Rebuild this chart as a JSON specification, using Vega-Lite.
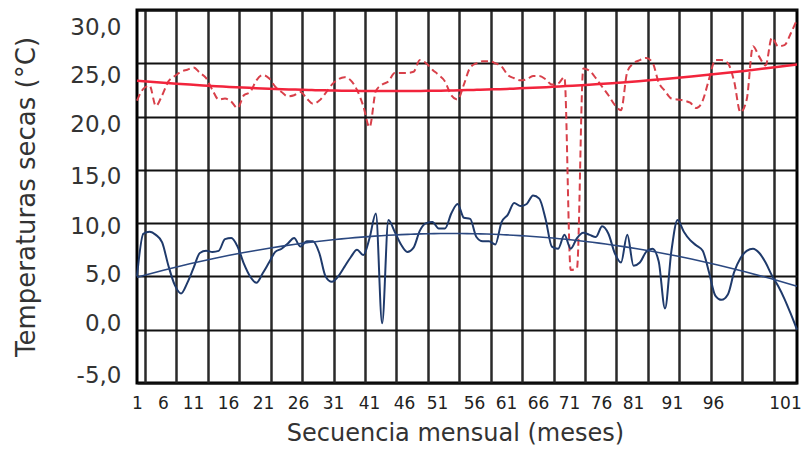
{
  "$schema": "https://vega.github.io/schema/vega-lite/v6.json",
  "width": 660,
  "height": 373,
  "autosize": {"type": "none"},
  "padding": {"left": 137, "top": 10, "right": 5, "bottom": 73},
  "background": "#ffffff",
  "config": {
    "view": {"stroke": "#000000", "strokeWidth": 3},
    "font": "DejaVu Sans"
  },
  "datasets": {
    "temps": [
      {"mes":1,"inferior":5.0,"superior":21.5},{"mes":2,"inferior":9.0,"superior":22.6},{"mes":3,"inferior":9.2,"superior":22.9},{"mes":4,"inferior":8.9,"superior":21.0},{"mes":5,"inferior":8.2,"superior":22.0},
      {"mes":6,"inferior":6.0,"superior":23.3},{"mes":7,"inferior":4.2,"superior":23.8},{"mes":8,"inferior":3.4,"superior":24.2},{"mes":9,"inferior":4.4,"superior":24.4},{"mes":10,"inferior":5.8,"superior":24.6},
      {"mes":11,"inferior":7.2,"superior":24.1},{"mes":12,"inferior":7.4,"superior":23.6},{"mes":13,"inferior":7.3,"superior":22.5},{"mes":14,"inferior":7.4,"superior":21.6},{"mes":15,"inferior":8.5,"superior":21.7},
      {"mes":16,"inferior":8.6,"superior":21.4},{"mes":17,"inferior":7.8,"superior":20.8},{"mes":18,"inferior":6.2,"superior":22.0},{"mes":19,"inferior":5.0,"superior":22.3},{"mes":20,"inferior":4.4,"superior":23.4},
      {"mes":21,"inferior":5.3,"superior":23.9},{"mes":22,"inferior":6.3,"superior":23.6},{"mes":23,"inferior":7.3,"superior":22.8},{"mes":24,"inferior":7.6,"superior":22.3},{"mes":25,"inferior":8.1,"superior":21.9},
      {"mes":26,"inferior":8.6,"superior":22.0},{"mes":27,"inferior":7.8,"superior":22.3},{"mes":28,"inferior":8.3,"superior":21.7},{"mes":29,"inferior":8.3,"superior":21.2},{"mes":30,"inferior":7.2,"superior":21.5},
      {"mes":31,"inferior":5.0,"superior":22.2},{"mes":32,"inferior":4.5,"superior":23.0},{"mes":33,"inferior":5.0,"superior":23.5},{"mes":34,"inferior":5.9,"superior":23.7},{"mes":35,"inferior":6.8,"superior":23.4},
      {"mes":36,"inferior":7.5,"superior":22.5},{"mes":37,"inferior":7.0,"superior":21.0},{"mes":38,"inferior":8.6,"superior":19.0},{"mes":39,"inferior":10.9,"superior":22.4},{"mes":40,"inferior":0.6,"superior":23.0},
      {"mes":41,"inferior":10.3,"superior":23.3},{"mes":42,"inferior":9.2,"superior":24.1},{"mes":43,"inferior":8.0,"superior":24.1},{"mes":44,"inferior":7.3,"superior":24.1},{"mes":45,"inferior":7.7,"superior":24.2},
      {"mes":46,"inferior":9.3,"superior":25.3},{"mes":47,"inferior":10.0,"superior":25.0},{"mes":48,"inferior":10.1,"superior":24.4},{"mes":49,"inferior":9.5,"superior":23.9},{"mes":50,"inferior":9.5,"superior":23.3},
      {"mes":51,"inferior":10.9,"superior":22.0},{"mes":52,"inferior":11.8,"superior":21.6},{"mes":53,"inferior":10.5,"superior":23.0},{"mes":54,"inferior":10.4,"superior":24.6},{"mes":55,"inferior":8.7,"superior":25.0},
      {"mes":56,"inferior":8.3,"superior":25.2},{"mes":57,"inferior":8.3,"superior":25.2},{"mes":58,"inferior":8.0,"superior":25.0},{"mes":59,"inferior":10.1,"superior":24.7},{"mes":60,"inferior":10.8,"superior":23.9},
      {"mes":61,"inferior":11.9,"superior":23.6},{"mes":62,"inferior":11.6,"superior":23.4},{"mes":63,"inferior":11.8,"superior":23.5},{"mes":64,"inferior":12.6,"superior":23.8},{"mes":65,"inferior":12.3,"superior":23.8},
      {"mes":66,"inferior":10.4,"superior":23.5},{"mes":67,"inferior":7.8,"superior":23.0},{"mes":68,"inferior":7.6,"superior":23.1},{"mes":69,"inferior":8.9,"superior":23.7},{"mes":70,"inferior":7.6,"superior":5.6},
      {"mes":71,"inferior":8.6,"superior":5.8},{"mes":72,"inferior":9.1,"superior":24.5},{"mes":73,"inferior":8.9,"superior":24.3},{"mes":74,"inferior":8.7,"superior":23.6},{"mes":75,"inferior":9.7,"superior":22.8},
      {"mes":76,"inferior":9.0,"superior":22.0},{"mes":77,"inferior":7.2,"superior":21.1},{"mes":78,"inferior":6.3,"superior":20.6},{"mes":79,"inferior":8.9,"superior":24.2},{"mes":80,"inferior":6.0,"superior":25.0},
      {"mes":81,"inferior":6.3,"superior":25.3},{"mes":82,"inferior":7.3,"superior":25.5},{"mes":83,"inferior":7.6,"superior":25.1},{"mes":84,"inferior":6.4,"superior":23.2},{"mes":85,"inferior":2.0,"superior":22.4},
      {"mes":86,"inferior":7.3,"superior":21.7},{"mes":87,"inferior":10.3,"superior":21.6},{"mes":88,"inferior":9.2,"superior":21.5},{"mes":89,"inferior":8.4,"superior":21.3},{"mes":90,"inferior":7.9,"superior":20.8},
      {"mes":91,"inferior":7.4,"superior":21.5},{"mes":92,"inferior":5.4,"superior":23.5},{"mes":93,"inferior":3.2,"superior":25.3},{"mes":94,"inferior":2.8,"superior":25.3},{"mes":95,"inferior":3.3,"superior":25.0},
      {"mes":96,"inferior":5.4,"superior":23.3},{"mes":97,"inferior":6.7,"superior":20.4},{"mes":98,"inferior":7.4,"superior":21.6},{"mes":99,"inferior":7.6,"superior":26.6},{"mes":100,"inferior":7.2,"superior":25.6},
      {"mes":101,"inferior":6.3,"superior":24.8},{"mes":102,"inferior":5.1,"superior":27.4},{"mes":103,"inferior":4.1,"superior":26.6},{"mes":104,"inferior":2.9,"superior":26.7},{"mes":105,"inferior":1.5,"superior":27.8},
      {"mes":106,"inferior":0.0,"superior":29.1}
    ]
  },
  "data": {"name": "temps"},
  "layer": [
    {
      "encoding": {
        "x": {
          "field": "mes", "type": "quantitative",
          "scale": {"domain": [1, 106], "nice": false, "zero": false},
          "axis": {
            "orient": "top", "grid": true, "labels": false, "ticks": false, "domain": false, "title": null,
            "values": [2.27, 7.27, 12.27, 17.27, 22.27, 27.27, 32.27, 37.27, 42.27, 47.27, 52.27, 57.27, 62.27, 67.27, 72.27, 77.27, 82.27, 87.27, 92.27, 97.27, 102.27],
            "gridColor": "#2a2a2a", "gridWidth": 2.5, "gridOpacity": 1
          }
        },
        "y": {
          "field": "superior", "type": "quantitative",
          "scale": {"domain": [-5, 30], "nice": false, "zero": false},
          "axis": {
            "orient": "right", "grid": true, "labels": false, "ticks": false, "domain": false, "title": null,
            "values": [-5, 0, 5, 10, 15, 20, 25, 30],
            "gridColor": "#111111", "gridWidth": 2.2, "gridOpacity": 1
          }
        }
      },
      "layer": [
        {
          "mark": {"type": "line", "color": "#d8404a", "strokeWidth": 2, "strokeDash": [7, 4], "interpolate": "monotone"}
        },
        {
          "transform": [{"regression": "superior", "on": "mes", "method": "poly", "order": 2, "extent": [1, 106]}],
          "mark": {"type": "line", "color": "#f2243c", "strokeWidth": 2.5}
        }
      ]
    },
    {
      "encoding": {
        "x": {
          "field": "mes", "type": "quantitative",
          "scale": {"domain": [1, 106], "nice": false, "zero": false},
          "axis": {
            "orient": "bottom", "grid": false, "ticks": false, "domain": false,
            "title": "Secuencia mensual (meses)",
            "values": [1.0, 5.14, 9.91, 15.48, 21.04, 26.61, 32.18, 37.91, 43.48, 48.72, 54.61, 59.7, 64.79, 69.72, 74.81, 79.9, 86.1, 92.63, 104.09],
            "labelExpr": "datum.value < 3 ? '1' : datum.value < 7 ? '6' : datum.value < 12 ? '11' : datum.value < 18 ? '16' : datum.value < 24 ? '21' : datum.value < 29 ? '26' : datum.value < 35 ? '31' : datum.value < 41 ? '41' : datum.value < 46 ? '46' : datum.value < 52 ? '51' : datum.value < 58 ? '56' : datum.value < 63 ? '61' : datum.value < 68 ? '66' : datum.value < 72 ? '71' : datum.value < 77 ? '76' : datum.value < 83 ? '81' : datum.value < 89 ? '91' : datum.value < 98 ? '96' : '101'",
            "labelOverlap": false, "labelBound": false, "labelFlush": false,
            "labelFont": "DejaVu Sans", "labelFontSize": 17, "labelColor": "#222222", "labelPadding": 12,
            "titleFont": "DejaVu Sans", "titleFontSize": 24, "titleFontWeight": "normal", "titleColor": "#333333", "titlePadding": 10,
            "titleX": 318
          }
        },
        "y": {
          "field": "inferior", "type": "quantitative",
          "scale": {"domain": [-5, 30], "nice": false, "zero": false},
          "axis": {
            "orient": "left", "grid": false, "ticks": false, "domain": false,
            "title": "Temperaturas secas (°C)",
            "values": [28.4, 23.9, 19.21, 14.33, 9.64, 5.14, 0.63, -4.25],
            "labelExpr": "datum.value > 26 ? '30,0' : datum.value > 21 ? '25,0' : datum.value > 16 ? '20,0' : datum.value > 12 ? '15,0' : datum.value > 7 ? '10,0' : datum.value > 3 ? '5,0' : datum.value > -2 ? '0,0' : '-5,0'",
            "labelOverlap": false, "labelBound": false, "labelFlush": false,
            "labelFont": "DejaVu Sans", "labelFontSize": 23, "labelColor": "#333333", "labelPadding": 16,
            "titleFont": "DejaVu Sans", "titleFontSize": 26, "titleFontWeight": "normal", "titleColor": "#333333", "titlePadding": 30
          }
        }
      },
      "layer": [
        {
          "mark": {"type": "line", "color": "#1f3a6b", "strokeWidth": 2, "interpolate": "monotone"}
        },
        {
          "transform": [{"regression": "inferior", "on": "mes", "method": "poly", "order": 2, "extent": [1, 106]}],
          "mark": {"type": "line", "color": "#2b4880", "strokeWidth": 1.6}
        }
      ]
    }
  ],
  "resolve": {"axis": {"x": "independent", "y": "independent"}}
}
